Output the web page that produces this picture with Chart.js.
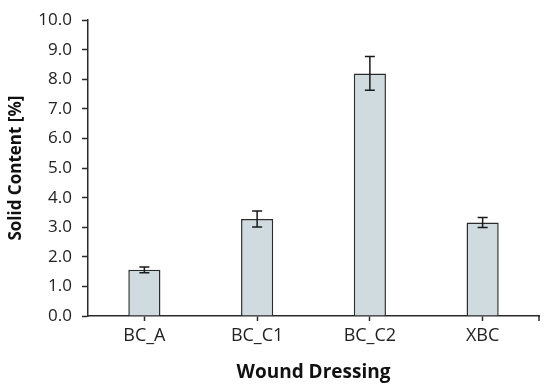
<!DOCTYPE html>
<html>
<head>
<meta charset="utf-8">
<script src="https://cdn.jsdelivr.net/npm/chart.js@4.4.1/dist/chart.umd.min.js"></script>
<style>
  html, body { margin: 0; padding: 0; background: #fff; }
  #wrap { width: 550px; height: 392px; }
</style>
</head>
<body>
<div id="wrap"><canvas id="chart"></canvas></div>
<script>
// chart data
const categories = ['BC_A', 'BC_C1', 'BC_C2', 'XBC'];
const solidContent = [1.56, 3.28, 8.20, 3.16];
const errorSD = [0.10, 0.27, 0.57, 0.17];
const yTicks = [0, 1, 2, 3, 4, 5, 6, 7, 8, 9, 10];

const FONT = '"Open Sans", "Noto Sans", sans-serif';
const AXIS_COLOR = '#2a2a2a';

// draws error bars and the closing tick at the right end of the x axis
const errorBarPlugin = {
  id: 'errorBars',
  afterDatasetsDraw(chart) {
    const ctx = chart.ctx;
    const yScale = chart.scales.y;
    const xScale = chart.scales.x;
    const meta = chart.getDatasetMeta(0);
    ctx.save();
    ctx.strokeStyle = '#1a1a1a';
    ctx.lineWidth = 1.5;
    meta.data.forEach((bar, i) => {
      const x = bar.x;
      const top = yScale.getPixelForValue(solidContent[i] + errorSD[i]);
      const bottom = yScale.getPixelForValue(solidContent[i] - errorSD[i]);
      ctx.beginPath();
      ctx.moveTo(x, top);
      ctx.lineTo(x, bottom);
      ctx.moveTo(x - 5, top);
      ctx.lineTo(x + 5, top);
      ctx.moveTo(x - 5, bottom);
      ctx.lineTo(x + 5, bottom);
      ctx.stroke();
    });
    // right end tick of the x axis
    ctx.strokeStyle = AXIS_COLOR;
    ctx.beginPath();
    ctx.moveTo(xScale.right, xScale.top);
    ctx.lineTo(xScale.right, xScale.top + 5);
    ctx.stroke();
    ctx.restore();
  }
};

const ctx = document.getElementById('chart').getContext('2d');
const myChart = new Chart(ctx, {
  type: 'bar',
  data: {
    labels: categories,
    datasets: [{
      data: solidContent,
      backgroundColor: '#cfdbdf',
      borderColor: '#2b2b2b',
      borderWidth: 1.5,
      barPercentage: 0.57,
      categoryPercentage: 0.5,
    }],
  },
  options: {
    responsive: true,
    maintainAspectRatio: false,
    animation: false,
    layout: { padding: { top: 14, right: 11, left: 0, bottom: 0 } },
    plugins: {
      legend: { display: false },
      tooltip: { enabled: false },
    },
    scales: {
      x: {
        offset: true,
        grid: {
          offset: false,
          drawOnChartArea: false,
          drawTicks: true,
          tickLength: 5,
          tickColor: AXIS_COLOR,
          tickWidth: 1.5,
        },
        border: { color: AXIS_COLOR, width: 1.5 },
        ticks: {
          color: '#222',
          font: { family: FONT, size: 18 },
          padding: 4,
        },
        title: {
          display: true,
          text: 'Wound Dressing',
          color: '#111',
          font: { family: FONT, size: 19, weight: 'bold' },
          padding: { top: 4, bottom: 8 },
        },
        afterFit(scale) { scale.height = 76; },
      },
      y: {
        min: 0,
        max: 10,
        afterBuildTicks(scale) {
          scale.ticks = yTicks.map((v) => ({ value: v }));
        },
        grid: {
          drawOnChartArea: false,
          drawTicks: true,
          tickLength: 6,
          tickColor: AXIS_COLOR,
          tickWidth: 1.5,
        },
        border: { color: AXIS_COLOR, width: 1.5 },
        ticks: {
          color: '#222',
          font: { family: FONT, size: 17 },
          padding: 10,
          callback: (v) => Number(v).toFixed(1),
        },
        title: {
          display: true,
          text: 'Solid Content [%]',
          color: '#111',
          font: { family: FONT, size: 17, weight: 'bold' },
          padding: { top: 6, bottom: 6 },
        },
        afterFit(scale) { scale.width = 88; },
      },
    },
  },
  plugins: [errorBarPlugin],
});
</script>
</body>
</html>
